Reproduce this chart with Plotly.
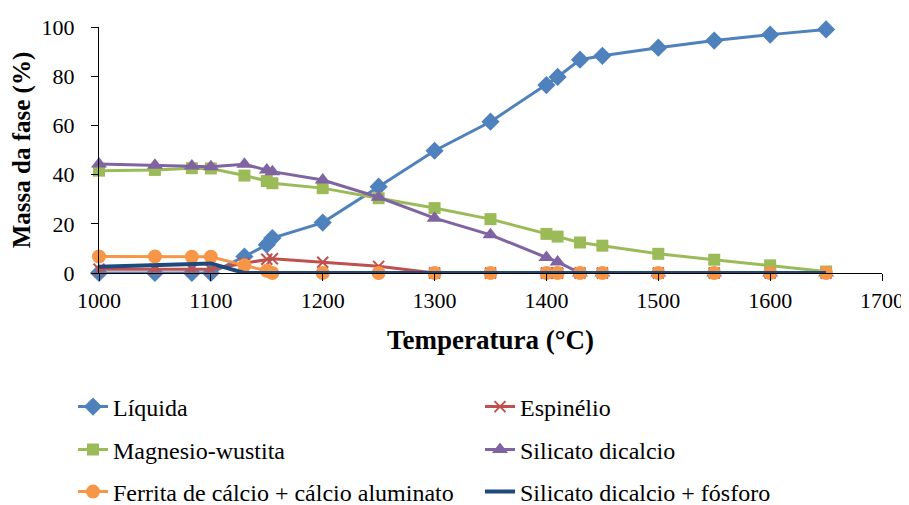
import plotly.graph_objects as go

temps = [1000, 1050, 1083, 1100, 1130, 1150, 1155, 1200, 1250, 1300, 1350,
         1400, 1410, 1430, 1450, 1500, 1550, 1600, 1650]

liquida = [0, 0, 0, 0, 6.7, 11.5, 14.2, 20.5, 35.1, 49.7, 61.5,
           76.4, 79.7, 86.7, 88.3, 91.6, 94.5, 96.9, 99.0]
espinelio = [1.5, 1.5, 1.5, 1.5, 4.0, 5.6, 5.8, 4.4, 2.7, 0, 0,
             0, 0, 0, 0, 0, 0, 0, 0]
magnesio = [41.6, 41.9, 42.6, 42.5, 39.6, 37.4, 36.5, 34.5, 30.4, 26.4, 21.9,
            15.9, 14.8, 12.4, 11.1, 7.8, 5.4, 3.1, 0.6]
silicato = [44.3, 43.8, 43.5, 43.2, 44.2, 41.9, 41.2, 37.8, 30.8, 22.3, 15.5,
            6.3, 4.5, 0, 0, 0, 0, 0, 0]
ferrita = [6.7, 6.7, 6.6, 6.6, 3.1, 0.9, 0, 0, 0, 0, 0,
           0, 0, 0, 0, 0, 0, 0, 0]
silicato_p = [2.5, 3.1, 3.7, 3.9, 0, 0, 0, 0, 0, 0, 0,
              0, 0, 0, 0, 0, 0, 0, 0]

x_ticks = [1000, 1100, 1200, 1300, 1400, 1500, 1600, 1700]
y_ticks = [0, 20, 40, 60, 80, 100]

FONT = "Liberation Serif"
# the page body has an 8px default margin, so the figure is drawn 8px in
OFF = 8
W, H = 909 - OFF, 505 - OFF

series = [
    ("Líquida", liquida, "#4F81BD", dict(symbol="diamond", size=14)),
    ("Espinélio", espinelio, "#C0504D",
     dict(symbol="x-thin", size=11, line=dict(width=2, color="#C0504D"))),
    ("Magnesio-wustita", magnesio, "#9BBB59", dict(symbol="square", size=12)),
    ("Silicato dicalcio", silicato, "#8064A2", dict(symbol="triangle-up", size=14)),
    ("Ferrita de cálcio + cálcio aluminato", ferrita, "#F79646",
     dict(symbol="circle", size=14)),
    ("Silicato dicalcio + fósforo", silicato_p, "#1F497D", None),
]

# legend cells in page pixels: (legend-left x, text-centre y)
cells = [(73, 407), (480, 407), (73, 450), (480, 450), (73, 492), (480, 492)]
leg_names = ["legend", "legend2", "legend3", "legend4", "legend5", "legend6"]

fig = go.Figure()
for i, (name, vals, color, marker) in enumerate(series):
    if marker is None:
        fig.add_trace(go.Scatter(x=temps, y=vals, name=name, mode="lines",
                                 line=dict(color=color, width=4),
                                 cliponaxis=False, legend=leg_names[i]))
    else:
        m = dict(marker)
        m["color"] = color
        fig.add_trace(go.Scatter(x=temps, y=vals, name=name, mode="lines+markers",
                                 line=dict(color=color, width=3), marker=m,
                                 cliponaxis=False, legend=leg_names[i]))

legends = {}
for ln, (cx, cy) in zip(leg_names, cells):
    legends[ln] = dict(orientation="h", xref="container", yref="container",
                       x=(cx - OFF) / W, y=1 - (cy - OFF) / H,
                       xanchor="left", yanchor="middle",
                       font=dict(family=FONT, size=24, color="#000000"),
                       bgcolor="rgba(0,0,0,0)", itemwidth=30)

# plot area in page pixels: left 99, right 881.7, top 26.7, bottom 273.3
fig.update_layout(
    width=W, height=H,
    margin=dict(l=99 - OFF, r=909 - 881.7, t=26.7 - OFF, b=505 - 273.3,
                autoexpand=False),
    paper_bgcolor="white", plot_bgcolor="white",
    font=dict(family=FONT, size=22, color="#000000"),
    xaxis=dict(range=[1000, 1700], tickvals=x_ticks, ticktext=[str(v) for v in x_ticks],
               showgrid=False, zeroline=False, showline=True, linecolor="#000000",
               linewidth=1.3, ticks="outside", ticklen=7, tickcolor="#000000",
               tickfont=dict(family=FONT, size=22),
               title=dict(text="<b>Temperatura (°C)</b>",
                          font=dict(family=FONT, size=27), standoff=18)),
    yaxis=dict(range=[0, 100], tickvals=y_ticks, ticktext=[str(v) for v in y_ticks],
               showgrid=False, zeroline=False, showline=True, linecolor="#000000",
               linewidth=1.3, ticks="outside", ticklen=7, tickcolor="#000000",
               tickfont=dict(family=FONT, size=22), ticklabelstandoff=12,
               title=dict(text="<b>Massa da fase (%)</b>",
                          font=dict(family=FONT, size=25), standoff=6)),
    showlegend=True,
    **legends,
)

fig.write_html("out.html")
